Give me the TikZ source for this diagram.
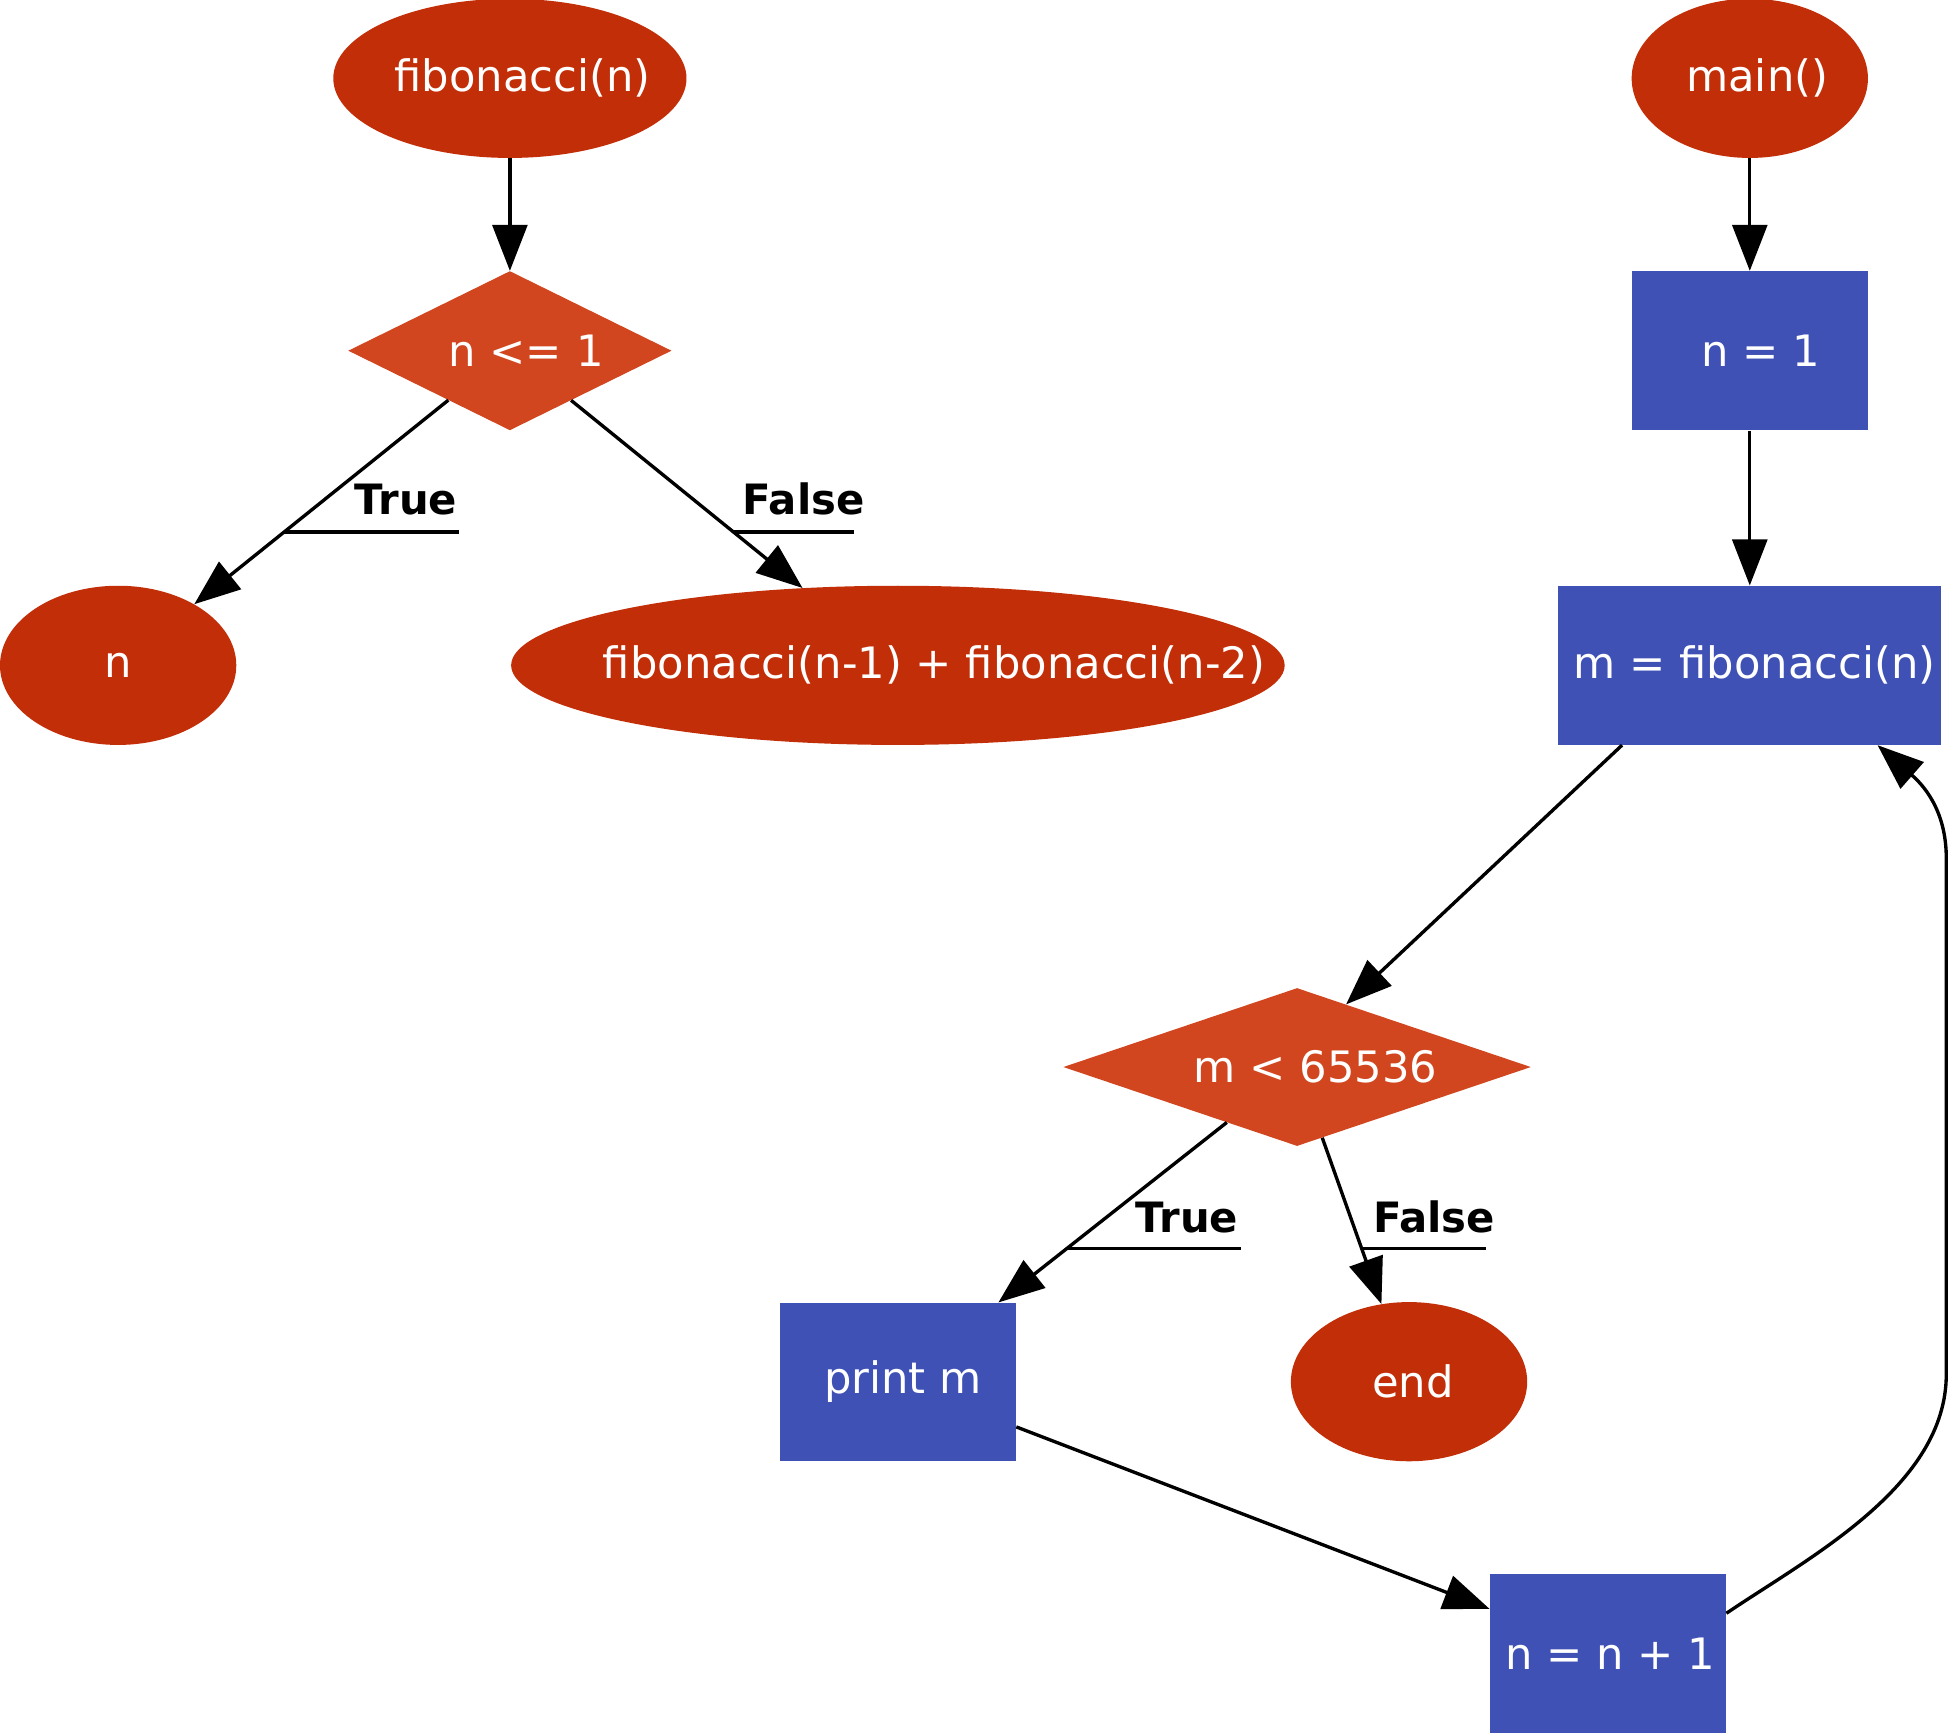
\documentclass[tikz,border=0pt]{standalone}
\usepackage{fontspec}
\setmainfont{DejaVu Sans}
\usetikzlibrary{shapes.geometric,arrows.meta}
\definecolor{ovalred}{HTML}{C22E08}
\definecolor{diaorange}{HTML}{D1461E}
\definecolor{boxblue}{HTML}{3F51B5}
\newcommand{\zt}[2]{\makebox[0pt][c]{\hspace*{#1pt}#2}}
\begin{document}
\begin{tikzpicture}[x=1pt,y=-1pt,
  base/.style={draw=none,text=white,inner sep=0pt,font=\fontsize{34.8}{40}\selectfont},
  oval/.style={base,ellipse,fill=ovalred},
  decision/.style={base,diamond,fill=diaorange},
  process/.style={base,rectangle,fill=boxblue},
  edge/.style={line width=2.7pt,-{Triangle[length=37pt,width=28pt]}},
  lbl/.style={font=\bfseries\fontsize{33.6}{40}\selectfont,anchor=base west,inner sep=0pt},
  uline/.style={line width=2.7pt}]
\useasboundingbox (0,0) rectangle (1568,1393.5);

% nodes
\node[oval,minimum width=284pt,minimum height=128pt] (fib) at (410,63) {\zt{20}{fibonacci(n)}};
\node[decision,minimum width=260pt,minimum height=128pt] (d1) at (410,282) {\zt{26}{n <= 1}};
\node[oval,minimum width=190pt,minimum height=128pt] (ret) at (95,535) {\zt{0}{n}};
\node[oval,minimum width=622pt,minimum height=128pt] (rec) at (722,535) {\zt{58}{fibonacci(n-1) + fibonacci(n-2)}};
\node[oval,minimum width=190pt,minimum height=128pt] (main) at (1407,63) {\zt{12}{main()}};
\node[process,minimum width=190pt,minimum height=128pt] (n1) at (1407,282) {\zt{18}{n = 1}};
\node[process,minimum width=308pt,minimum height=128pt] (mfib) at (1407,535) {\zt{8}{m = fibonacci(n)}};
\node[decision,minimum width=376pt,minimum height=127pt] (d2) at (1043,858) {\zt{30}{m < 65536}};
\node[process,minimum width=190pt,minimum height=127pt] (pm) at (722,1111) {\zt{8}{print m}};
\node[oval,minimum width=190pt,minimum height=128pt] (fin) at (1133,1111) {\zt{6}{end}};
\node[process,minimum width=190pt,minimum height=128pt] (nn) at (1293,1330) {\zt{4}{n = n + 1}};

% edges
\draw[edge] (fib) -- (d1);
\draw[edge] (d1) -- coordinate[pos=0.647] (t1) (ret);
\draw[edge] (d1) -- coordinate[pos=0.702] (f1) (rec);
\draw[edge] (main) -- (n1);
\draw[edge] (n1) -- (mfib);
\draw[edge] (mfib.212) -- (d2.52);
\draw[edge] (d2) -- coordinate[pos=0.700] (t2) (pm);
\draw[edge] (d2) -- coordinate[pos=0.666] (f2) (fin);
\draw[edge] (pm) -- (nn);
\coordinate (r1) at (1565,1105);
\coordinate (r2) at (1565,690);
\draw[edge] (nn.19) .. controls (1455,1252) and (1565,1195) .. (r1) -- (r2)
  .. controls (1565,650) and (1545,630) .. (mfib.-32);

% edge labels
\draw[uline] (t1) -- ++(141,0);
\node[lbl] (lt1) at (285,414) {True};
\draw[uline] (f1) -- ++(97,0);
\node[lbl] (lf1) at (597,414) {False};
\draw[uline] (t2) -- ++(140,0);
\node[lbl] (lt2) at (913,991) {True};
\draw[uline] (f2) -- ++(100,0);
\node[lbl] (lf2) at (1104,991) {False};
\end{tikzpicture}
\end{document}
